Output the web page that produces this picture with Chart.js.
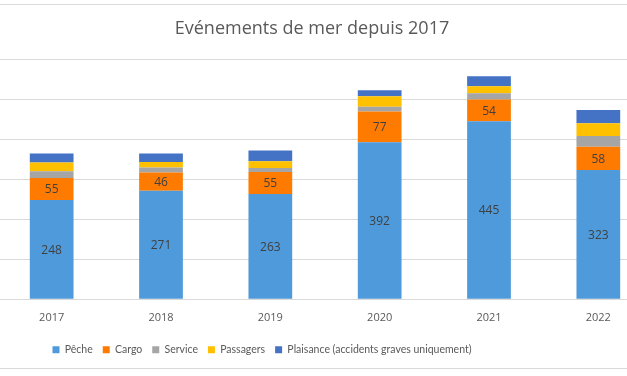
<!DOCTYPE html>
<html>
<head>
<meta charset="utf-8">
<script src="https://cdn.jsdelivr.net/npm/chart.js@4.4.1/dist/chart.umd.min.js"></script>
<style>
  html, body { margin: 0; padding: 0; background: #fff; overflow: hidden; }
  #wrap { position: absolute; left: -3px; top: 0; width: 656px; height: 376px; }
</style>
</head>
<body>
<div id="wrap"><canvas id="seaChart"></canvas></div>
<script>
const years = ['2017', '2018', '2019', '2020', '2021', '2022'];
const peche = [248, 271, 263, 392, 445, 323];
const cargo = [55, 46, 55, 77, 54, 58];
const service = [17, 12, 10, 12, 16, 27];
const passagers = [22, 14, 17, 26, 17, 32];
const plaisance = [22, 21, 27, 15, 25, 33];

// values written inside the segments (only Pêche and Cargo)
const segmentLabels = {
    id: 'segmentLabels',
    afterDatasetsDraw(chart) {
        const ctx = chart.ctx;
        ctx.save();
        ctx.font = '12px "Open Sans"';
        ctx.fillStyle = '#404040';
        ctx.textAlign = 'center';
        ctx.textBaseline = 'middle';
        [0, 1].forEach(i => {
            const meta = chart.getDatasetMeta(i);
            meta.data.forEach((bar, j) => {
                const p = bar.getProps(['x', 'y', 'base'], true);
                ctx.fillText(chart.data.datasets[i].data[j], p.x, (p.y + p.base) / 2 + 1);
            });
        });
        ctx.restore();
    }
};

// the picture is cut from a wider chart: shift title and legend, draw the frame lines
const frame = {
    id: 'frame',
    afterLayout(chart) {
        chart.titleBlock.left -= 13;
        chart.titleBlock.right -= 13;
        chart.legend.left -= 63;
        chart.legend.right -= 63;
    },
    afterDraw(chart) {
        const ctx = chart.ctx;
        ctx.save();
        ctx.strokeStyle = '#d9d9d9';
        ctx.lineWidth = 1;
        ctx.beginPath();
        ctx.moveTo(0, 4.5); ctx.lineTo(chart.width, 4.5);
        ctx.moveTo(0, 368.5); ctx.lineTo(chart.width, 368.5);
        ctx.stroke();
        ctx.restore();
    }
};

const ds = (label, data, color) => ({
    label: label,
    data: data,
    backgroundColor: color,
    borderWidth: 0,
    barPercentage: 0.4,
    categoryPercentage: 1
});

new Chart(document.getElementById('seaChart'), {
    type: 'bar',
    data: {
        labels: years,
        datasets: [
            ds('Pêche', peche, '#4e9adb'),
            ds('Cargo', cargo, '#ff7b00'),
            ds('Service', service, '#a5a5a5'),
            ds('Passagers', passagers, '#ffc000'),
            ds('Plaisance (accidents graves uniquement)', plaisance, '#4472c4')
        ]
    },
    options: {
        responsive: true,
        maintainAspectRatio: false,
        animation: false,
        layout: { padding: { bottom: 11 } },
        scales: {
            x: {
                stacked: true,
                grid: { display: false, drawTicks: false },
                border: { display: false },
                ticks: { color: '#595959', font: { family: 'Open Sans', size: 11 }, padding: 12 },
                afterFit: s => { s.height -= 2; }
            },
            y: {
                stacked: true,
                min: 0,
                max: 600,
                ticks: { display: false, stepSize: 100 },
                grid: { color: '#d9d9d9', drawTicks: false },
                border: { display: false }
            }
        },
        plugins: {
            title: {
                display: true,
                text: 'Evénements de mer depuis 2017',
                color: '#595959',
                font: { family: 'Open Sans', size: 18, weight: 'normal' },
                padding: { top: 18, bottom: 19.5 }
            },
            legend: {
                position: 'bottom',
                labels: {
                    color: '#595959',
                    font: { family: 'Lato', size: 10.5 },
                    boxWidth: 7,
                    boxHeight: 7,
                    padding: 10
                }
            },
            tooltip: { enabled: false }
        }
    },
    plugins: [segmentLabels, frame]
});
</script>
</body>
</html>
